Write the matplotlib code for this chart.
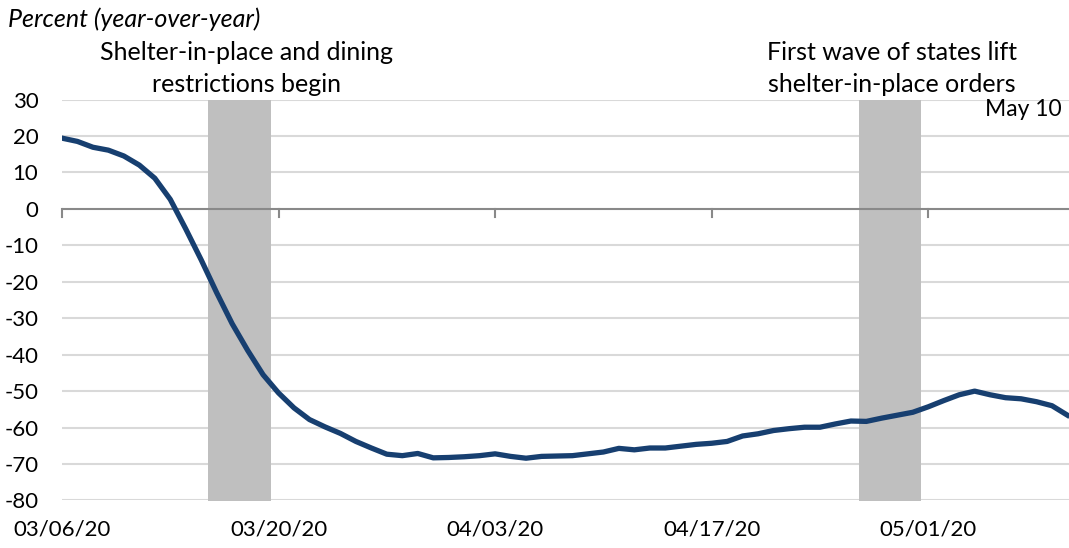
import pandas as pd
import matplotlib.pyplot as plt

plt.rcParams['font.family'] = ['Lato', 'DejaVu Sans']

# daily values, 03/06/20 .. 05/10/20
dates = pd.date_range('2020-03-06', '2020-05-10', freq='D')
pct = [19.4, 18.5, 16.9, 16.1, 14.5, 12.0, 8.4, 2.6, -5.5, -14.0,
       -23.0, -31.5, -38.8, -45.5, -50.5, -54.6, -57.8, -59.8, -61.6, -63.8,
       -65.6, -67.3, -67.7, -67.1, -68.3, -68.2, -68.0, -67.7, -67.2, -67.9,
       -68.4, -67.9, -67.8, -67.7, -67.2, -66.7, -65.7, -66.1, -65.6, -65.6,
       -65.1, -64.6, -64.3, -63.8, -62.3, -61.7, -60.8, -60.3, -59.9, -59.9,
       -59.0, -58.2, -58.3, -57.4, -56.6, -55.8, -54.3, -52.6, -51.0, -50.0,
       -51.0, -51.8, -52.1, -52.9, -54.0, -56.6]

shade_spans = [('2020-03-15 11:00', '2020-03-19 12:00'),
               ('2020-04-26 12:00', '2020-04-30 12:00')]
tick_dates = ['2020-03-06', '2020-03-20', '2020-04-03', '2020-04-17', '2020-05-01']
tick_labels = ['03/06/20', '03/20/20', '04/03/20', '04/17/20', '05/01/20']
yticks = list(range(-80, 31, 10))

W, H = 1069, 548
fig = plt.figure(figsize=(W / 100, H / 100), dpi=100)
ax = fig.add_axes([62 / W, 47.5 / H, 1007 / W, 401 / H])

for a, b in shade_spans:
    ax.axvspan(pd.Timestamp(a), pd.Timestamp(b), color='#bfbfbf', lw=0, zorder=1)

for y in yticks:
    if y != 0:
        ax.axhline(y, color='#d9d9d9', lw=1.5, zorder=0)
ax.axhline(0, color='#898989', lw=1.5, zorder=2)

ax.plot(dates, pct, color='#173f70', lw=3.8, zorder=3, solid_joinstyle='round')

ax.set_xlim(dates[0], dates[0] + pd.Timedelta(days=65.1))
ax.set_ylim(-80, 30)
ax.set_yticks(yticks)
ax.set_yticklabels([str(y) for y in yticks], fontsize=16)
ax.tick_params(axis='y', length=0, pad=17)
for s in ax.spines.values():
    s.set_visible(False)

# ticks on the zero line
tk = [pd.Timestamp(d) for d in tick_dates]
ax.set_xticks(tk)
ax.set_xticklabels([])
ax.tick_params(axis='x', length=0)
for t in tk:
    ax.plot([t, t], [0, -2.2], color='#898989', lw=1.5, zorder=2, clip_on=False)

sec = ax.secondary_xaxis(0)
sec.set_xticks(tk)
sec.set_xticklabels(tick_labels, fontsize=16)
sec.tick_params(length=0, pad=14)
sec.spines['bottom'].set_visible(False)

def ft(x, y, s, size=18, **kw):
    fig.text(x / W, 1 - y / H, s, fontsize=size, va='center', **kw)

ft(8, 19, 'Percent (year-over-year)', ha='left', style='italic', size=18)
ft(247, 52, 'Shelter-in-place and dining', ha='center')
ft(247, 84, 'restrictions begin', ha='center')
ft(892, 53, 'First wave of states lift', ha='center')
ft(892, 85, 'shelter-in-place orders', ha='center')
ft(1062, 110, 'May 10', ha='right', size=16.5)

fig.savefig('out.png', dpi=100)
